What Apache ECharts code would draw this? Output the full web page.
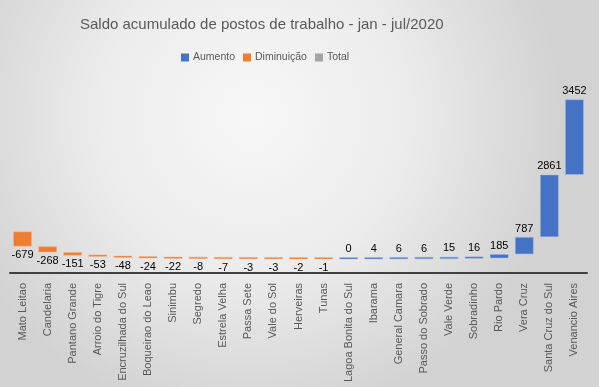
<!DOCTYPE html>
<html><head><meta charset="utf-8">
<script src="https://cdn.jsdelivr.net/npm/echarts@6/dist/echarts.min.js"></script>
<style>html,body{margin:0;padding:0;background:#fff}#c{width:599px;height:387px}</style>
</head><body><div id="c"></div>
<script>
const categories = ["Mato Leitao","Candelaria","Pantano Grande","Arroio do Tigre","Encruzilhada do Sul","Boqueirao do Leao","Sinimbu","Segredo","Estrela Velha","Passa Sete","Vale do Sol","Herveiras","Tunas","Lagoa Bonita do Sul","Ibarama","General Camara","Passo do Sobrado","Vale Verde","Sobradinho","Rio Pardo","Vera Cruz","Santa Cruz do Sul","Venancio Aires"];
const values = [-679,-268,-151,-53,-48,-24,-22,-8,-7,-3,-3,-2,-1,0,4,6,6,15,16,185,787,2861,3452];
const seriesNames = ["Aumento","Diminuição","Total"];
const titleText = "Saldo acumulado de postos de trabalho - jan - jul/2020";

// build waterfall pieces
const baseUp = [], baseDown = [], up = [], down = [];
let cum = 0;
values.forEach(v => {
  const next = cum + v;
  const b = Math.min(cum, next);
  if (v >= 0) { up.push(v); baseUp.push(b); down.push('-'); baseDown.push('-'); }
  else { down.push(-v); baseDown.push(b); up.push('-'); baseUp.push('-'); }
  cum = next;
});

const chart = echarts.init(document.getElementById('c'));
const font = 'Liberation Sans';
const bw = '74%';
chart.setOption({
  animation: false,
  backgroundColor: {type:'radial', x:0.42, y:0.3, r:0.8, colorStops:[{offset:0,color:'#f7f7f7'},{offset:0.5,color:'#ececec'},{offset:1,color:'#d2d2d2'}]},
  textStyle: {fontFamily: font},
  title: {text: titleText, left: 75, top: 12, textStyle: {fontFamily: font, fontSize: 15, fontWeight: 'normal', color: '#595959'}},
  legend: {data: seriesNames, top: 47, left: 176, itemWidth: 8, itemHeight: 8, itemGap: 8, icon: 'rect',
    itemStyle: {borderWidth: 0},
    textStyle: {fontFamily: font, fontSize: 10.5, color: '#595959', padding:[0,0,0,-1]}},
  grid: {left: 10, right: 12, top: 90, bottom: 114, containLabel: false},
  xAxis: {type: 'category', data: categories,
    axisLine: {onZero: false, lineStyle: {color: '#404040', width: 2}},
    axisTick: {show: false},
    axisLabel: {rotate: 90, interval: 0, fontSize: 11, color: '#595959', margin: 10, fontFamily: font}},
  yAxis: {type: 'value', min: -1900, max: 6500, show: false, splitLine: {show: false}},
  series: [
    {name: 'baseUp', type: 'bar', stack: 'a', stackStrategy: 'all', data: baseUp, itemStyle: {color: 'transparent'}, barWidth: bw, barGap: '-100%', silent: true},
    {name: 'Aumento', type: 'bar', stack: 'a', stackStrategy: 'all', data: up, barMinHeight: 2, barWidth: bw, barGap: '-100%',
      itemStyle: {color: '#4472c4', borderColor: '#a9bde4', borderWidth: 0.5},
      label: {show: true, position: 'top', distance: 3, fontSize: 11, color: '#000', fontFamily: font,
        formatter: p => values[p.dataIndex]}},
    {name: 'baseDown', type: 'bar', stack: 'b', stackStrategy: 'all', data: baseDown, itemStyle: {color: 'transparent'}, barWidth: bw, barGap: '-100%', silent: true},
    {name: 'Diminuição', type: 'bar', stack: 'b', stackStrategy: 'all', data: down, barMinHeight: 2, barWidth: bw, barGap: '-100%',
      itemStyle: {color: '#ed7d31', borderColor: '#f5b78f', borderWidth: 0.5},
      label: {show: true, position: 'bottom', distance: 3, fontSize: 11, color: '#000', fontFamily: font,
        formatter: p => values[p.dataIndex]}},
    {name: 'Total', type: 'bar', stack: 'c', data: [], barWidth: bw, barGap: '-100%', itemStyle: {color: '#a5a5a5'}}
  ]
});
</script></body></html>
